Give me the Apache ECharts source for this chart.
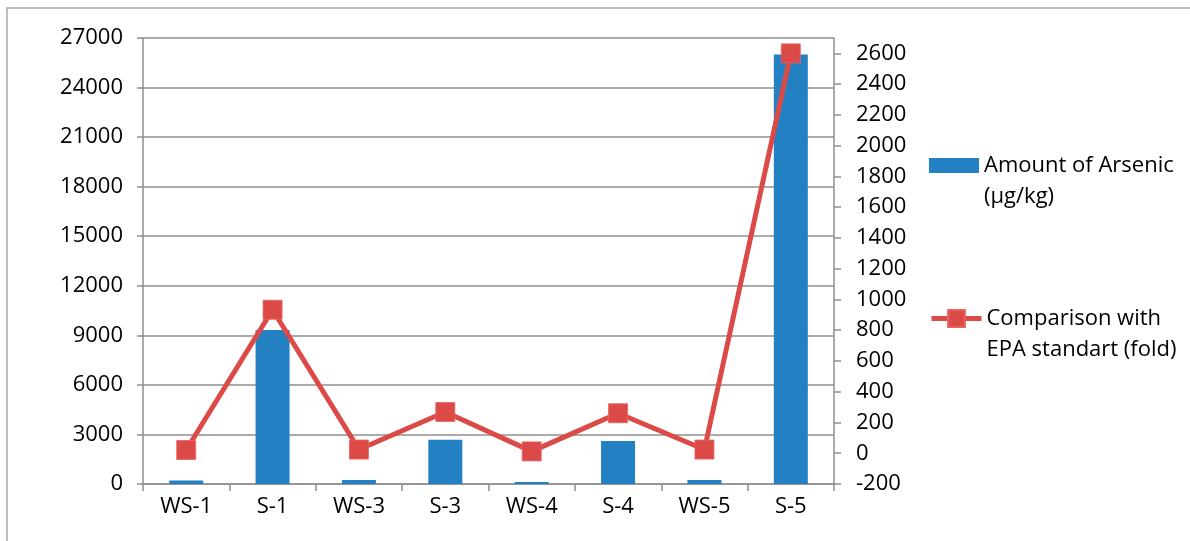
<!DOCTYPE html>
<html>
<head>
<meta charset="utf-8">
<script src="https://cdn.jsdelivr.net/npm/echarts@6/dist/echarts.min.js"></script>
<style>
html,body{margin:0;padding:0;background:#fff;}
#chart{width:1190px;height:541px;}
</style>
</head>
<body>
<div id="chart"></div>
<script>
var categories = ['WS-1', 'S-1', 'WS-3', 'S-3', 'WS-4', 'S-4', 'WS-5', 'S-5'];
var arsenicAmount = [210, 9330, 240, 2680, 120, 2600, 240, 26000];
var epaFold = [21, 933, 24, 268, 12, 260, 24, 2600];
var leftTicks = [0, 3000, 6000, 9000, 12000, 15000, 18000, 21000, 24000, 27000];
var rightTicks = [-200, 0, 200, 400, 600, 800, 1000, 1200, 1400, 1600, 1800, 2000, 2200, 2400, 2600];
var barName = 'Amount of Arsenic\n(µg/kg)';
var lineName = 'Comparison with\nEPA standart (fold)';

var FONT = '"Open Sans", "Liberation Sans", sans-serif';
var axisGray = '#8f8f8f';
var red = '#dc4a48';
var plain = function (v) { return String(v); };
var legendText = {fontFamily: FONT, fontSize: 22, color: '#000', lineHeight: 31};
var chart = echarts.init(document.getElementById('chart'), null, {renderer: 'canvas'});
chart.setOption({
  animation: false,
  backgroundColor: '#ffffff',
  textStyle: {fontFamily: FONT},
  graphic: [{
    type: 'rect',
    shape: {x: 7, y: 8, width: 1400, height: 800},
    style: {fill: 'none', stroke: '#a6a6a6', lineWidth: 1.5},
    silent: true, z: -10
  }],
  grid: {left: 143, right: 356, top: 38, bottom: 57, containLabel: false, outerBoundsMode: 'none'},
  legend: [{
    orient: 'vertical',
    left: 929,
    top: 119,
    padding: 0,
    itemWidth: 50,
    itemHeight: 15,
    selectedMode: false,
    formatter: '\n{name}',
    textStyle: legendText,
    data: [{name: barName, icon: 'rect'}]
  }, {
    orient: 'vertical',
    left: 929,
    top: 272,
    padding: 0,
    itemWidth: 50,
    itemHeight: 21,
    selectedMode: false,
    formatter: '\n{name}',
    textStyle: legendText,
    data: [{name: lineName, itemStyle: {color: red}, lineStyle: {color: red, width: 5}}]
  }],
  xAxis: {
    type: 'category',
    data: categories,
    boundaryGap: true,
    axisLine: {lineStyle: {color: axisGray, width: 1.5}},
    axisTick: {show: true, length: 7, inside: false, alignWithLabel: false, lineStyle: {color: axisGray, width: 1.5}},
    axisLabel: {color: '#000', fontSize: 22, fontFamily: FONT, margin: 12},
    splitLine: {show: false}
  },
  yAxis: [{
    type: 'value',
    position: 'left',
    min: 0, max: 27000, interval: 3000,
    axisLine: {show: true, lineStyle: {color: axisGray, width: 1.5}},
    axisTick: {show: true, length: 6, inside: false, lineStyle: {color: axisGray, width: 1.5}},
    axisLabel: {color: '#000', fontSize: 22, fontFamily: FONT, margin: 20, customValues: leftTicks, formatter: plain},
    splitLine: {show: true, lineStyle: {color: axisGray, width: 1.5}}
  }, {
    type: 'value',
    position: 'right',
    min: -200, max: 2700, interval: 200,
    axisLine: {show: true, lineStyle: {color: axisGray, width: 1.5}},
    axisTick: {show: true, length: 7, inside: false, lineStyle: {color: axisGray, width: 1.5}, customValues: rightTicks},
    axisLabel: {color: '#000', fontSize: 22, fontFamily: FONT, margin: 22, customValues: rightTicks, formatter: plain},
    splitLine: {show: false}
  }],
  series: [{
    name: barName,
    type: 'bar',
    yAxisIndex: 0,
    data: arsenicAmount,
    barWidth: 34,
    itemStyle: {color: '#2381c3'},
    z: 2
  }, {
    name: lineName,
    type: 'line',
    yAxisIndex: 1,
    data: epaFold,
    symbol: 'rect',
    symbolSize: 19,
    showAllSymbol: true,
    lineStyle: {color: red, width: 5},
    itemStyle: {color: red, borderColor: '#e8625f', borderWidth: 0.8},
    z: 3
  }]
});
</script>
</body>
</html>
